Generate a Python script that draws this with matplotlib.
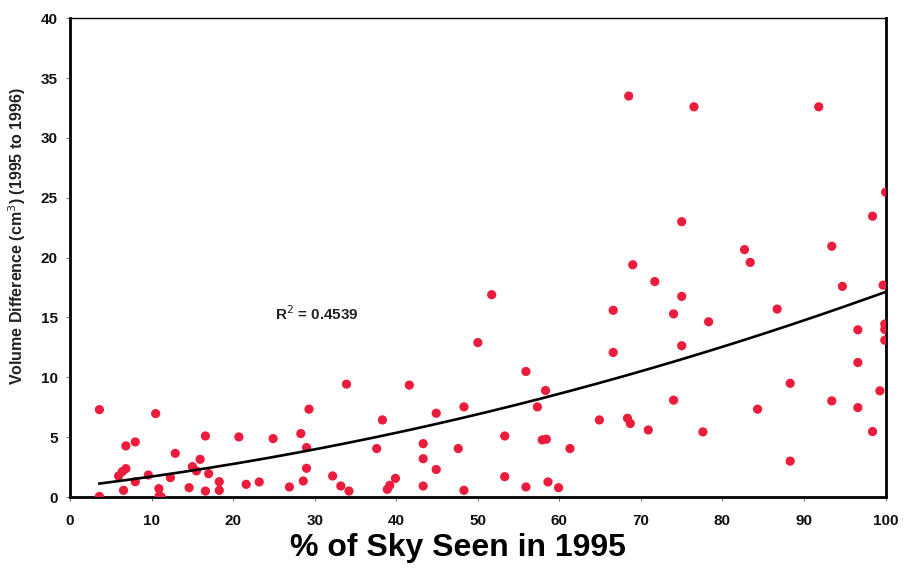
import numpy as np
import matplotlib
matplotlib.use("Agg")
import matplotlib.pyplot as plt

sky_seen = [3.6, 3.6, 5.95, 6.4, 6.85, 6.56, 6.85, 8.0, 8.0, 9.6, 10.5, 10.9, 10.95, 11.2,
            12.3, 12.9, 14.6, 15.0, 15.5, 15.95, 16.6, 16.6, 17.0, 18.3, 18.3, 20.7, 21.6,
            23.2, 24.9, 26.9, 28.3, 28.6, 29.0, 29.0, 29.3, 32.2, 33.2, 33.9, 34.2, 37.6,
            38.3, 38.9, 39.2, 39.9, 41.6, 43.3, 43.3, 43.3, 44.9, 44.9, 47.6, 48.3, 48.3,
            50.0, 51.7, 53.3, 53.3, 55.9, 55.9, 57.3, 57.9, 58.4, 58.3, 58.6, 59.9, 61.3,
            64.9, 66.6, 66.6, 68.35, 68.7, 68.5, 69.0, 70.9, 71.7, 74.0, 74.0, 75.0, 75.0,
            75.0, 76.5, 77.6, 78.3, 82.7, 83.4, 84.3, 86.7, 88.3, 88.3, 91.8, 93.4, 93.4,
            94.7, 96.6, 96.6, 96.6, 98.4, 98.4, 99.3, 99.7, 99.9, 99.9, 99.9, 100.0]
vol_diff = [7.3, 0.05, 1.76, 2.12, 2.37, 0.56, 4.27, 4.6, 1.28, 1.84, 6.97, 0.7, 0.1, 0.0,
            1.62, 3.65, 0.78, 2.54, 2.18, 3.15, 5.1, 0.5, 1.95, 1.28, 0.56, 5.02, 1.06,
            1.26, 4.88, 0.84, 5.3, 1.34, 2.4, 4.13, 7.34, 1.76, 0.92, 9.43, 0.5, 4.05,
            6.44, 0.64, 0.98, 1.56, 9.35, 4.46, 3.2, 0.92, 7.0, 2.3, 4.05, 7.53, 0.56,
            12.9, 16.9, 5.1, 1.7, 10.49, 0.84, 7.53, 4.77, 4.83, 8.9, 1.26, 0.78, 4.05,
            6.44, 15.6, 12.08, 6.58, 6.14, 33.5, 19.4, 5.6, 18.0, 15.3, 8.09, 23.0, 16.76,
            12.64, 32.6, 5.44, 14.64, 20.67, 19.6, 7.34, 15.7, 9.5, 3.0, 32.6, 20.95, 8.03,
            17.6, 13.97, 11.24, 7.47, 23.46, 5.47, 8.87, 17.7, 14.45, 14.0, 13.1, 25.46]

x_ticks = [0, 10, 20, 30, 40, 50, 60, 70, 80, 90, 100]
y_ticks = [0, 5, 10, 15, 20, 25, 30, 35, 40]
r2_label = "R$^{2}$ = 0.4539"

plt.rcParams['font.family'] = ['Liberation Sans', 'DejaVu Sans']

fig = plt.figure(figsize=(9.13, 5.69), dpi=100)
ax = fig.add_axes([0.0767, 0.1265, 0.8933, 0.8415])

ax.scatter(sky_seen, vol_diff, s=44, color='#ec1c3c', edgecolors='none', zorder=3)

coef = np.polyfit(sky_seen, vol_diff, 2)
xs = np.linspace(min(sky_seen), max(sky_seen), 200)
ax.plot(xs, np.polyval(coef, xs), color='black', lw=1.9, zorder=4)

ax.set_xlim(0, 100)
ax.set_ylim(0, 40)
ax.set_xticks(x_ticks)
ax.set_yticks(y_ticks)
ax.tick_params(axis='both', direction='out', length=3, width=0.6, colors='#555555',
               labelcolor='#111111', labelsize=11)
for lab in ax.get_xticklabels() + ax.get_yticklabels():
    lab.set_fontweight('bold')
ax.tick_params(axis='x', pad=9)
ax.tick_params(axis='y', pad=6)

for side in ['left', 'bottom', 'right']:
    ax.spines[side].set_linewidth(2.0)
ax.spines['top'].set_linewidth(1.0)
for sp in ax.spines.values():
    sp.set_color('black')

ax.text(25.1, 15.3, r2_label, fontsize=11, fontweight='bold', va='center', ha='left',
        color='#222222')

ax.set_xlabel('% of Sky Seen in 1995', fontsize=23, fontweight='bold')
ax.xaxis.set_label_coords(0.476, -0.076)
ax.set_ylabel('Volume Difference (cm$^{3}$) (1995 to 1996)', fontsize=11.5, fontweight='bold',
              color='#222222')
ax.yaxis.set_label_coords(-0.052, 0.545)

fig.savefig('out.png', dpi=100)
